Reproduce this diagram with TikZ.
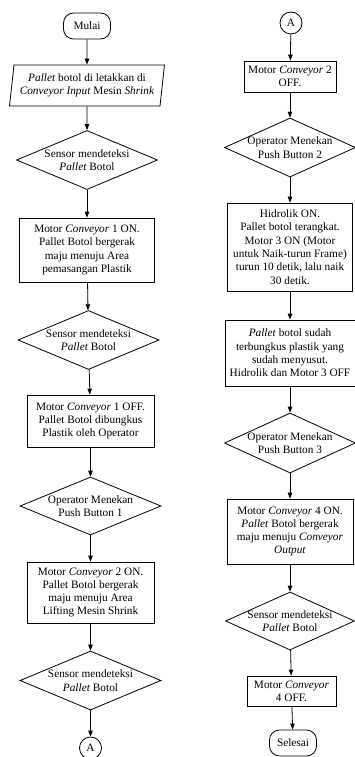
\documentclass[tikz,border=0pt]{standalone}
\usepackage{fontspec}
\setmainfont{Liberation Serif}
\usetikzlibrary{shapes.geometric,arrows.meta}

\begin{document}
\begin{tikzpicture}[x=1pt,y=-1pt,
        font=\fontsize{11.3}{13.3}\selectfont, line width=0.8pt,
        proses/.style={draw, rectangle, align=center, inner sep=1pt},
        keputusan/.style={draw, diamond, aspect=2.4, align=center, inner sep=-2pt},
        terminal/.style={draw, rectangle, rounded corners=10pt, minimum width=47pt, minimum height=26pt},
        masukan/.style={draw, trapezium, trapezium left angle=80, trapezium right angle=100,
            trapezium stretches body, align=center, minimum width=155pt, minimum height=41pt, inner sep=1pt},
        konektor/.style={draw, circle, minimum size=22pt, inner sep=0pt},
        panah/.style={-{Triangle[length=6pt,width=4.5pt]}}]
        \useasboundingbox (0,0) rectangle (354,757);
        % kolom kiri
        \node[terminal] (mulai) at (87,26) {Mulai};
        \node[masukan] (letak) at (87,85.5) {\textit{Pallet} botol di letakkan di\\ \textit{Conveyor Input} Mesin \textit{Shrink}};
        \node[keputusan, minimum width=141pt, minimum height=59pt] (sensor1) at (87,160) {Sensor mendeteksi\\ \textit{Pallet} Botol};
        \node[proses, minimum width=135pt, minimum height=64pt] (conv1on) at (87,250) {Motor \textit{Conveyor} 1 ON.\\ Pallet Botol bergerak\\ maju menuju Area\\ pemasangan Plastik};
        \node[keputusan, minimum width=141pt, minimum height=59pt] (sensor2) at (88.5,340) {Sensor mendeteksi\\ \textit{Pallet} Botol};
        \node[proses, minimum width=127pt, minimum height=52pt] (conv1off) at (90.5,421) {Motor \textit{Conveyor} 1 OFF.\\ Pallet Botol dibungkus\\ Plastik oleh Operator};
        \node[keputusan, minimum width=141pt, minimum height=58pt] (tombol1) at (90.5,506) {Operator Menekan\\ Push Button 1};
        \node[proses, minimum width=127pt, minimum height=61pt] (conv2on) at (90.5,592.5) {Motor \textit{Conveyor} 2 ON.\\ Pallet Botol bergerak\\ maju menuju Area\\ Lifting Mesin Shrink};
        \node[keputusan, minimum width=141pt, minimum height=59pt] (sensor3) at (90.5,680.5) {Sensor mendeteksi\\ \textit{Pallet} Botol};
        \node[konektor] (akhirA) at (90.5,748) {A};
        % kolom kanan
        \node[konektor] (awalA) at (291,23) {A};
        \node[proses, minimum width=92pt, minimum height=31pt] (conv2off) at (290,76.5) {Motor \textit{Conveyor} 2\\ OFF.};
        \node[keputusan, aspect=2.2, minimum width=131pt, minimum height=59pt] (tombol2) at (290,147.5) {Operator Menekan\\ Push Button 2};
        \node[proses, minimum width=125pt, minimum height=88pt] (hidrolik) at (290,247) {Hidrolik ON.\\ Pallet botol terangkat.\\ Motor 3 ON (Motor\\ untuk Naik-turun Frame)\\ turun 10 detik, lalu naik\\ 30 detik.};
        \node[proses, minimum width=130pt, minimum height=66pt] (susut) at (290,353) {\textit{Pallet} botol sudah\\ terbungkus plastik yang\\ sudah menyusut.\\ Hidrolik dan Motor 3 OFF};
        \node[keputusan, aspect=2.2, minimum width=131pt, minimum height=60pt] (tombol3) at (290,443) {Operator Menekan\\ Push Button 3};
        \node[proses, minimum width=126pt, minimum height=65pt] (conv4on) at (290,531.5) {Motor \textit{Conveyor} 4 ON.\\ \textit{Pallet} Botol bergerak\\ maju menuju \textit{Conveyor}\\ \textit{Output}};
        \node[keputusan, aspect=2.2, minimum width=129pt, minimum height=58pt] (sensor4) at (290,621) {Sensor mendeteksi\\ \textit{Pallet} Botol};
        \node[proses, minimum width=89pt, minimum height=30pt] (conv4off) at (291.5,691) {Motor \textit{Conveyor}\\ 4 OFF.};
        \node[terminal] (selesai) at (293,743) {Selesai};

        \draw[panah] (mulai) -- (letak);
        \draw[panah] (letak) -- (sensor1);
        \draw[panah] (sensor1) -- (conv1on);
        \draw[panah] (conv1on) -- (sensor2);
        \draw[panah] (sensor2) -- (conv1off);
        \draw[panah] (conv1off) -- (tombol1);
        \draw[panah] (tombol1) -- (conv2on);
        \draw[panah] (conv2on) -- (sensor3);
        \draw[panah] (sensor3) -- (akhirA);
        \draw[panah] (awalA) -- (conv2off);
        \draw[panah] (conv2off) -- (tombol2);
        \draw[panah] (tombol2) -- (hidrolik);
        \draw[panah] (hidrolik) -- (susut);
        \draw[panah] (susut) -- (tombol3);
        \draw[panah] (tombol3) -- (conv4on);
        \draw[panah] (conv4on) -- (sensor4);
        \draw[panah] (sensor4) -- (conv4off);
        \draw[panah] (conv4off) -- (selesai);
    \end{tikzpicture}
\end{document}
